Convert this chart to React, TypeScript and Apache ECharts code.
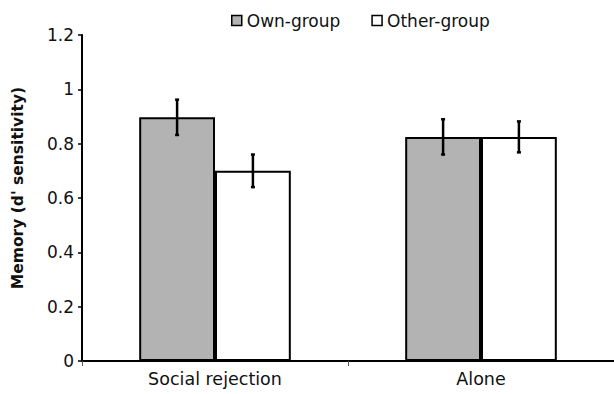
import React, { useEffect, useRef } from "react";
import * as echarts from "echarts";

const categories = ["Social rejection", "Alone"];
const ownGroup = [0.897, 0.825];
const otherGroup = [0.70, 0.825];
const ownErr = [0.065, 0.065];
const otherErr = [0.06, 0.057];
const yTicks = [0, 0.2, 0.4, 0.6, 0.8, 1, 1.2];
const yAxisTitle = "Memory (d' sensitivity)";

const FONT = "DejaVu Sans";
const GAP = 0.43;

export default function App() {
  const ref = useRef<HTMLDivElement>(null);
  useEffect(() => {
    if (!ref.current) return;
    const chart = echarts.init(ref.current, null, { renderer: "svg" });
    const errSeries = (vals: number[], errs: number[], side: number) => ({
      type: "custom",
      z: 10,
      data: vals.map((v, i) => [i, v, errs[i]]),
      renderItem: (params: any, api: any) => {
        const i = api.value(0);
        const v = api.value(1);
        const e = api.value(2);
        const bw = api.size([1, 0])[0];
        const barW = (bw * (1 - GAP)) / 2;
        const c = api.coord([i, v]);
        const x = c[0] + side * barW / 2;
        const top = api.coord([i, v + e])[1];
        const bot = api.coord([i, v - e])[1];
        const st = { stroke: "#000", lineWidth: 2.5 };
        return {
          type: "group",
          children: [
            { type: "line", shape: { x1: x, y1: top, x2: x, y2: bot }, style: st },
            { type: "line", shape: { x1: x - 2, y1: top, x2: x + 2, y2: top }, style: st },
            { type: "line", shape: { x1: x - 2, y1: bot, x2: x + 2, y2: bot }, style: st },
          ],
        };
      },
    });
    chart.setOption({
      animation: false,
      grid: { left: 82, right: 0, top: 35, bottom: 33, containLabel: false },
      graphic: [
        {
          type: "text",
          x: 18,
          y: 188,
          rotation: Math.PI / 2,
          style: {
            text: yAxisTitle,
            fontFamily: FONT,
            fontSize: 15.5,
            fontWeight: "bold",
            fill: "#111",
            align: "center",
            verticalAlign: "middle",
          },
        },
      ],
      legend: {
        top: 7,
        left: 226,
        itemWidth: 10,
        itemHeight: 10,
        itemGap: 31,
        textStyle: { fontFamily: FONT, fontSize: 17, color: "#111" },
        data: [
          { name: "Own-group", icon: "rect", itemStyle: { color: "#b3b3b3", borderColor: "#000", borderWidth: 1.5 } },
          { name: "Other-group", icon: "rect", itemStyle: { color: "#fff", borderColor: "#000", borderWidth: 1.5 } },
        ],
      },
      xAxis: {
        type: "category",
        data: categories,
        axisLine: { lineStyle: { color: "#000", width: 2 } },
        axisTick: { show: true, length: 5, lineStyle: { color: "#555", width: 1 }, alignWithLabel: false },
        axisLabel: { fontFamily: FONT, fontSize: 17.5, color: "#111", margin: 9 },
      },
      yAxis: {
        type: "value",
        min: 0,
        max: 1.2,
        interval: 0.2,
        axisLine: { show: true, lineStyle: { color: "#000", width: 2 } },
        axisTick: { show: true, length: 4, lineStyle: { color: "#000", width: 1.5 } },
        splitLine: { show: false },
        axisLabel: {
          fontFamily: FONT,
          fontSize: 17,
          color: "#111",
          margin: 8,
          formatter: (v: number) => {
            const t = yTicks.find((y) => Math.abs(y - v) < 1e-6);
            return t === undefined ? "" : String(t);
          },
        },
      },
      series: [
        {
          name: "Own-group",
          type: "bar",
          data: ownGroup,
          barGap: "0%",
          barCategoryGap: "43%",
          itemStyle: { color: "#b3b3b3", borderColor: "#000", borderWidth: 2 },
        },
        {
          name: "Other-group",
          type: "bar",
          data: otherGroup,
          barGap: "0%",
          barCategoryGap: "43%",
          itemStyle: { color: "#fff", borderColor: "#000", borderWidth: 2 },
        },
        errSeries(ownGroup, ownErr, -1),
        errSeries(otherGroup, otherErr, 1),
      ],
    });
    return () => chart.dispose();
  }, []);
  return <div ref={ref} style={{ width: 614, height: 394, position: "absolute", left: 0, top: 0 }} />;
}
